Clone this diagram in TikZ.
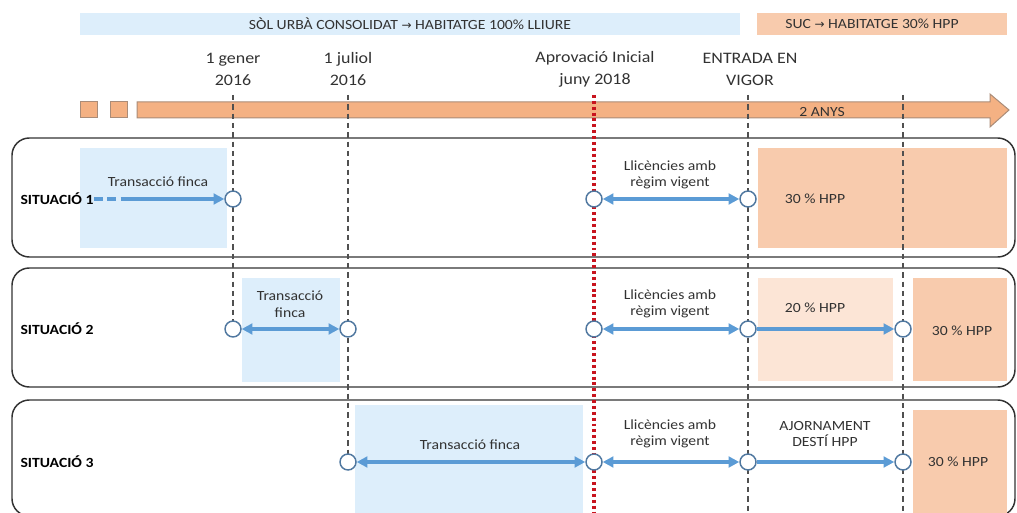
\documentclass[tikz,border=0pt]{standalone}
\usepackage{fontspec}
\setmainfont[FakeStretch=1.12]{Carlito}
\newfontfamily\symfont{DejaVu Sans}
\usetikzlibrary{arrows.meta}

\definecolor{sucblue}{RGB}{221,238,251}
\definecolor{hppor}{RGB}{248,203,173}
\definecolor{hpplight}{RGB}{252,229,214}
\definecolor{baror}{RGB}{244,177,131}
\definecolor{baredge}{RGB}{170,140,120}
\definecolor{arrblue}{RGB}{91,155,213}
\definecolor{ringblue}{RGB}{80,120,160}
\definecolor{linegray}{RGB}{80,80,80}
\definecolor{vigred}{RGB}{200,20,30}
\definecolor{txtgray}{RGB}{50,50,50}

\tikzset{every picture/.style={line width=0.75pt}}
\tikzset{
  lbl/.style={text=txtgray, font=\fontsize{10.5}{12.5}\selectfont, align=center, inner sep=1pt},
  datelbl/.style={text=txtgray, font=\fontsize{12}{16.5}\selectfont, align=center},
  sitlbl/.style={text=black, font=\fontsize{10.5}{12.5}\selectfont\bfseries, anchor=west, inner sep=0pt},
  pt/.style={circle, draw=ringblue, fill=white, line width=1.1pt, minimum size=12pt, inner sep=0pt},
  flow/.style={draw=arrblue, line width=2.8pt, -{Triangle[length=8pt,width=8pt]}},
  flowtwo/.style={draw=arrblue, line width=2.8pt, {Triangle[length=8pt,width=8pt]}-{Triangle[length=8pt,width=8pt]}},
  vline/.style={draw=linegray, line width=0.9pt, dash pattern=on 4pt off 3pt},
  redline/.style={draw=vigred, line width=2.6pt, dash pattern=on 2.2pt off 2.2pt},
  sitbox/.style={draw=txtgray, line width=1.1pt, rounded corners=13pt}
}

\begin{document}
\begin{tikzpicture}[x=0.75pt,y=0.75pt,yscale=-1,xscale=1]
	\useasboundingbox (0,0) rectangle (1017,513);

	%Shape: Rectangle [title bars]
	\fill [sucblue] (80,13) rectangle (740,35);
	\fill [hppor] (757,13) rectangle (1007,35);
	% Text Node
	\node [lbl] (tsuc) at (410,24) {SÒL URBÀ CONSOLIDAT {\symfont\fontsize{9}{10}\selectfont →} HABITATGE 100\% LLIURE};
	% Text Node
	\node [lbl] (thpp) at (872,24) {SUC {\symfont\fontsize{9}{10}\selectfont →} HABITATGE 30\% HPP};

	% Text Node [dates]
	\node [datelbl] (dg) at (233,69) {1 gener\\2016};
	\node [datelbl] (dj) at (348,69) {1 juliol\\2016};
	\node [datelbl] (dap) at (595,69) {Aprovació Inicial\\juny 2018};
	\node [datelbl] (den) at (750,69) {ENTRADA EN\\VIGOR};

	%Shape: Timeline
	\draw [baredge, fill=baror] (80,102) rectangle (97,118);
	\draw [baredge, fill=baror] (110,102) rectangle (127,118);
	\draw [baredge, fill=baror] (137,102) -- (990,102) -- (990,94) -- (1009,110) -- (990,127) -- (990,118) -- (137,118) -- cycle;
	% Text Node
	\node [lbl] (anys) at (822,112) {2 ANYS};

	%Shape: Rounded Rect [situations]
	\draw [sitbox] (12,138) rectangle (1015,257);
	\draw [sitbox] (12,268) rectangle (1015,387);
	\draw [sitbox] (12,400) rectangle (1015,516);

	%Shape: Rectangle [periods]
	\fill [sucblue] (80,148) rectangle (227,248);
	\fill [hppor] (758,148) rectangle (1007,248);
	\fill [sucblue] (242,278) rectangle (340,382);
	\fill [hpplight] (758,278) rectangle (893,381);
	\fill [hppor] (913,278) rectangle (1007,381);
	\fill [sucblue] (355,405) rectangle (583,516);
	\fill [hppor] (913,410) rectangle (1007,516);

	% crossing points
	\coordinate (tg) at (233,95);
	\coordinate (tj) at (348,95);
	\coordinate (tap) at (594,95);
	\coordinate (ten) at (748,95);
	\coordinate (tfi) at (903,95);
	\coordinate (bap) at (594,516);
	\coordinate (ben) at (748,516);
	\coordinate (bfi) at (903,516);
	\coordinate (g1) at (233,199);
	\coordinate (ap1) at (594,199);
	\coordinate (en1) at (748,199);
	\coordinate (g2) at (233,329);
	\coordinate (j2) at (348,329);
	\coordinate (ap2) at (594,329);
	\coordinate (en2) at (748,329);
	\coordinate (fi2) at (903,329);
	\coordinate (j3) at (348,462);
	\coordinate (ap3) at (594,462);
	\coordinate (en3) at (748,462);
	\coordinate (fi3) at (903,462);

	%Straight Lines [guides]
	\draw [vline] (tg) -- (g2);
	\draw [vline] (tj) -- (j3);
	\draw [vline] (ten) -- (ben);
	\draw [vline] (tfi) -- (bfi);
	\draw [redline] (tap) -- (bap);

	%Shape: Circle
	\node [pt] (cg1) at (g1) {};
	\node [pt] (cap1) at (ap1) {};
	\node [pt] (cen1) at (en1) {};
	\node [pt] (cg2) at (g2) {};
	\node [pt] (cj2) at (j2) {};
	\node [pt] (cap2) at (ap2) {};
	\node [pt] (cen2) at (en2) {};
	\node [pt] (cfi2) at (fi2) {};
	\node [pt] (cj3) at (j3) {};
	\node [pt] (cap3) at (ap3) {};
	\node [pt] (cen3) at (en3) {};
	\node [pt] (cfi3) at (fi3) {};

	% Text Node [situation 1]
	\node [sitlbl] (sit1) at (20,199) {SITUACIÓ 1};
	\node [lbl] (tr1) at (158,182) {Transacció finca};
	\node [lbl] (ll1) at (670,175) {Llicències amb\\règim vigent};
	\node [lbl] (h1) at (815,199) {30 \% HPP};
	\coordinate (d1) at (124,199);
	\draw [draw=arrblue, line width=2.8pt, dash pattern=on 6.5pt off 3.5pt] (sit1.east) -- (d1);
	\draw [flow] (d1) -- (cg1);
	\draw [flowtwo] (cap1) -- (cen1);

	% Text Node [situation 2]
	\node [sitlbl] (sit2) at (20,329) {SITUACIÓ 2};
	\node [lbl] (tr2) at (290,304) {Transacció\\finca};
	\node [lbl] (ll2) at (670,304) {Llicències amb\\règim vigent};
	\node [lbl] (h2a) at (815,308) {20 \% HPP};
	\node [lbl] (h2b) at (962,331) {30 \% HPP};
	\draw [flowtwo] (cg2) -- (cj2);
	\draw [flowtwo] (cap2) -- (cen2);
	\draw [flow] (cen2) -- (cfi2);

	% Text Node [situation 3]
	\node [sitlbl] (sit3) at (20,462) {SITUACIÓ 3};
	\node [lbl] (tr3) at (470,445) {Transacció finca};
	\node [lbl] (ll3) at (670,434) {Llicències amb\\règim vigent};
	\node [lbl] (aj3) at (825,434) {AJORNAMENT\\DESTÍ HPP};
	\node [lbl] (h3) at (958,462) {30 \% HPP};
	\draw [flowtwo] (cj3) -- (cap3);
	\draw [flowtwo] (cap3) -- (cen3);
	\draw [flow] (cen3) -- (cfi3);

\end{tikzpicture}
\end{document}
